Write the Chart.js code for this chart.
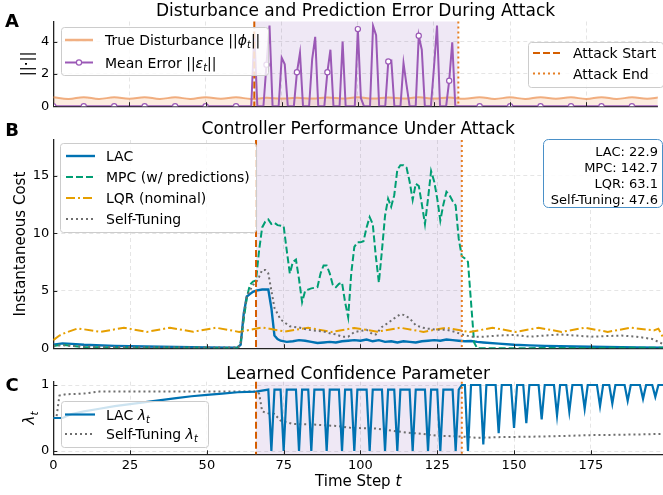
<!DOCTYPE html>
<html>
<head>
<meta charset="utf-8">
<script src="https://cdn.jsdelivr.net/npm/chart.js@4.4.1/dist/chart.umd.min.js"></script>
<style>
    html, body { margin: 0; padding: 0; background: #fff; }
    #wrap { position: relative; width: 663px; height: 495px; overflow: hidden; }
    canvas { position: absolute; left: 0; }
</style>
</head>
<body>
<div id="wrap">
    <canvas id="panelA" width="663" height="118" style="top:0"></canvas>
    <canvas id="panelB" width="663" height="242" style="top:118px"></canvas>
    <canvas id="panelC" width="663" height="135" style="top:360px"></canvas>
</div>
<script>
// ---- data ----
const attackWindow = [66, 133];
const xTicks = [0, 25, 50, 75, 100, 125, 150, 175];
const yTicksA = [0, 2, 4];
const yTicksB = [0, 5, 10, 15];
const yTicksC = [0, 1];

// panel A: true disturbance norm (wavy, ~0.5)
const distT = [0, 5, 10, 15, 20, 25, 30, 35, 40, 45, 50, 55, 60, 65, 70, 75, 80, 85, 90, 95,
    100, 105, 110, 115, 120, 125, 130, 135, 140, 145, 150, 155, 160, 165, 170, 175, 180, 185, 190, 195, 199];
const distV = [0.55, 0.45, 0.56, 0.45, 0.55, 0.46, 0.56, 0.45, 0.55, 0.45, 0.56, 0.46, 0.55, 0.45, 0.52, 0.47, 0.53, 0.47, 0.54, 0.48,
    0.55, 0.47, 0.54, 0.48, 0.55, 0.47, 0.54, 0.46, 0.56, 0.45, 0.55, 0.45, 0.56, 0.46, 0.55, 0.45, 0.56, 0.45, 0.55, 0.46, 0.55];

// panel A: mean prediction error
const errT = [0, 10, 20, 30, 40, 50, 60, 65,
    66, 67, 68, 69, 70, 71, 72, 73, 74, 75, 76, 77, 78, 79, 80, 81, 82, 83, 84, 85, 86, 87, 88, 89,
    90, 91, 92, 93, 94, 95, 96, 97, 98, 99, 100, 101, 102, 103, 104, 105, 106, 107, 108, 109,
    110, 111, 112, 113, 114, 115, 116, 117, 118, 119, 120, 121, 122, 123, 124, 125, 126, 127, 128, 129,
    130, 131, 132, 133, 140, 150, 160, 170, 180, 190, 199];
const errV = [0, 0, 0, 0, 0, 0, 0, 0,
    4.5, 0, 0, 0, 2.57, 5.0, 0, 0, 0, 3.0, 2.6, 0, 0, 0, 2.1, 3.3, 0, 0, 0, 2.9, 4.3, 0, 0, 0,
    2.1, 3.5, 0, 0, 0, 4.0, 0, 0, 0, 0, 4.78, 0.5, 0, 0, 0, 4.98, 4.4, 0, 0, 0,
    2.77, 2.83, 0, 0, 0, 2.67, 1.3, 0, 0, 0, 4.37, 3.5, 0, 0, 0, 2.4, 5.0, 0, 0, 0,
    1.58, 3.96, 0, 0, 0, 0, 0, 0, 0, 0, 0];

// panel B: instantaneous cost
const lacCostT = [0, 3, 6, 10, 20, 30, 40, 50, 60, 61, 62, 63, 64, 65, 66, 68, 70, 71, 72, 73, 74, 76, 78, 80, 82, 84, 86, 88,
    90, 92, 94, 96, 98, 100, 102, 104, 106, 108, 110, 112, 114, 116, 118, 120, 122, 124, 126, 128, 130, 132,
    134, 136, 138, 140, 145, 150, 155, 160, 170, 180, 190, 199];
const lacCostV = [0.3, 0.42, 0.38, 0.3, 0.2, 0.15, 0.1, 0.06, 0.05, 0.3, 3.0, 4.5, 4.7, 4.9, 5.0, 5.1, 5.1, 3.5, 1.1, 0.8, 0.65, 0.55, 0.6, 0.7, 0.65, 0.55, 0.45, 0.5,
    0.55, 0.5, 0.6, 0.65, 0.7, 0.65, 0.75, 0.6, 0.7, 0.55, 0.6, 0.5, 0.6, 0.55, 0.5, 0.6, 0.65, 0.7, 0.65, 0.75, 0.7, 0.65,
    0.6, 0.62, 0.55, 0.5, 0.4, 0.3, 0.25, 0.2, 0.15, 0.1, 0.06, 0.05];

const mpcCostT = [0, 3, 6, 10, 20, 60, 61, 62, 63, 64, 65, 66, 67, 68, 69, 70, 71, 72, 73, 75, 76, 77, 78, 79, 80, 81, 82, 84, 86, 87, 88, 89,
    90, 91, 92, 93, 94, 95, 96, 97, 98, 99, 100, 101, 102, 103, 104, 105, 106, 107, 108, 109,
    110, 111, 112, 113, 114, 115, 116, 117, 118, 119, 120, 121, 122, 123, 124, 125, 126, 127, 128, 129,
    130, 131, 132, 133, 134, 135, 136, 137, 138, 150, 199];
const mpcCostV = [0.2, 0.3, 0.2, 0.1, 0.05, 0.02, 0.5, 2.5, 4.4, 5.5, 5.8, 5.9, 8.5, 10.5, 11.0, 11.2, 10.8, 10.9, 10.7, 10.6, 8.5, 6.5, 7.5, 7.7, 6.0, 4.0, 5.0, 5.2, 5.3, 6.5, 7.2, 7.2,
    6.5, 5.5, 5.3, 5.6, 5.7, 4.0, 2.7, 6.5, 8.8, 9.2, 9.2, 9.3, 10.5, 11.4, 10.8, 8.0, 5.7, 8.5, 11.5, 13.0,
    12.3, 13.3, 15.5, 15.9, 15.9, 15.7, 14.5, 12.9, 14.3, 14.1, 12.5, 10.8, 13.0, 15.4, 14.5, 13.0, 11.1, 12.5, 13.6, 13.3,
    12.8, 12.4, 9.5, 8.0, 7.8, 7.5, 4.0, 0.5, 0.0, 0.0, 0.05];

const lqrCostT = [0, 2, 4, 8, 15.5, 23, 30.5, 38, 45.5, 53, 60.5, 68, 75.5, 83, 90.5, 98, 105.5, 113, 120.5, 128,
    135.5, 143, 150.5, 158, 165.5, 173, 180.5, 188, 195.5, 197, 199];
const lqrCostV = [0.7, 1.1, 1.35, 1.72, 1.42, 1.78, 1.42, 1.78, 1.43, 1.78, 1.42, 1.8, 1.45, 1.78, 1.42, 1.76, 1.44, 1.78, 1.42, 1.78,
    1.4, 1.78, 1.42, 1.78, 1.42, 1.78, 1.42, 1.78, 1.55, 1.7, 0.7];

const selfCostT = [0, 3, 10, 20, 60, 61, 62, 63, 64, 65, 66, 67, 68, 69, 70, 71, 72, 73, 74, 75, 77, 80, 83, 86, 88,
    90, 92, 94, 96, 98, 100, 102, 104, 105, 107, 109, 111, 113, 114, 116, 118, 120, 122, 125, 128, 131, 133,
    136, 140, 145, 150, 155, 160, 165, 170, 175, 180, 185, 190, 195, 199];
const selfCostV = [0.2, 0.25, 0.15, 0.1, 0.05, 0.3, 3.0, 4.5, 5.0, 5.5, 5.7, 6.2, 6.8, 6.8, 6.5, 5.0, 3.5, 3.0, 2.5, 2.3, 1.9, 1.8, 1.6, 1.5, 1.45,
    1.3, 1.2, 1.0, 1.0, 1.4, 1.5, 1.6, 1.2, 1.2, 1.85, 2.2, 2.6, 2.95, 2.9, 2.6, 2.0, 1.8, 1.7, 1.6, 1.6, 1.4, 1.2,
    1.0, 1.0, 1.1, 1.15, 1.0, 1.1, 1.2, 1.1, 1.0, 1.05, 1.1, 1.0, 0.8, 0.3];

const totalCost = { 'LAC': '22.9', 'MPC': '142.7', 'LQR': '63.1', 'Self-Tuning': '47.6' };

// panel C: learned confidence
const lacLamT = [0, 3, 6, 10, 15, 20, 25, 30, 35, 40, 45, 50, 55, 60, 66,
    70, 71, 72, 74, 75, 76, 79, 80, 81, 83, 84, 85, 88, 89, 90, 93, 94, 95, 97, 98, 99,
    102, 103, 104, 107, 108, 109, 111, 112, 113, 116, 117, 118, 121, 122, 123, 125, 126, 127, 130, 131, 132,
    133, 134, 135, 136, 139, 140, 141, 144, 145, 146, 149, 150, 151, 153, 154, 155, 158, 159, 160,
    163, 164, 165, 167, 168, 169, 172, 173, 174, 177, 178, 179, 181, 182, 183, 186, 187, 188,
    191, 192, 193, 195, 196, 197, 199];
const lacLamV = [0.5, 0.5, 0.56, 0.6, 0.64, 0.68, 0.71, 0.74, 0.77, 0.8, 0.83, 0.85, 0.87, 0.89, 0.9,
    0.93, 0, 0.93, 0.93, 0, 0.93, 0.93, 0, 0.93, 0.93, 0, 0.93, 0.93, 0, 0.93, 0.93, 0, 0.93, 0.93, 0, 0.93,
    0.93, 0, 0.93, 0.93, 0, 0.93, 0.93, 0, 0.93, 0.93, 0, 0.93, 0.93, 0, 0.93, 0.93, 0, 0.93, 0.93, 0, 0.93,
    1.0, 1.0, 0.0, 1.0, 1.0, 0.1, 1.0, 1.0, 0.27, 1.0, 1.0, 0.35, 1.0, 1.0, 0.42, 1.0, 1.0, 0.48, 1.0,
    1.0, 0.54, 1.0, 1.0, 0.6, 1.0, 1.0, 0.64, 1.0, 1.0, 0.68, 1.0, 1.0, 0.72, 1.0, 1.0, 0.76, 1.0,
    1.0, 0.79, 1.0, 1.0, 0.82, 1.0, 1.0];

const selfLamT = [0, 1, 2, 4, 10, 15, 66, 67, 68, 70, 72, 74, 78, 85, 92, 97, 105, 110, 115, 120, 125, 133,
    138, 145, 160, 175, 190, 199];
const selfLamV = [0.5, 0.5, 0.84, 0.86, 0.87, 0.9, 0.9, 0.87, 0.6, 0.57, 0.56, 0.46, 0.41, 0.4, 0.38, 0.35, 0.34, 0.31, 0.28, 0.26, 0.23, 0.22,
    0.2, 0.21, 0.22, 0.24, 0.25, 0.26];

// ---- look ----
const FONT = '"DejaVu Sans"';
const X_MAX = 198.5;
const PLOT_LEFT = 53.3;
const GRID = 'rgba(0,0,0,0.13)';
const SHADE = 'rgba(148,103,189,0.15)';
const C_LAC = '#0072B2', C_MPC = '#009E73', C_LQR = '#E69F00', C_SELF = '#6e6e6e';
const C_ERR = '#9B59B6', C_DIST = 'rgba(236,150,90,0.75)';
const C_START = '#D55E00', C_END = '#E67E22';

Chart.defaults.font.family = 'DejaVu Sans';

function pts(ts, vs) {
    return ts.map((t, i) => ({x: t, y: vs[i]}));
}

/**
 * splits a label into pieces, text between $ is math: letters italic, _x subscript
 */
function richParts(str) {
    let out = [];
    str.split('$').forEach((seg, i) => {
        if (i % 2 === 0) {
            if (seg) out.push({t: seg});
            return;
        }
        for (let k = 0; k < seg.length; k++) {
            let ch = seg[k], sub = false;
            if (ch === '_') { sub = true; ch = seg[++k]; }
            out.push({t: ch, it: /[A-Za-z\u0370-\u03ff]/.test(ch), sub: sub});
        }
    });
    return out;
}

function drawRich(ctx, str, x, y, size, align, weight) {
    let parts = richParts(str);
    let fontOf = p => (p.it ? 'italic ' : 'normal ') + (weight || 'normal') + ' ' + (p.sub ? size * 0.7 : size) + 'px ' + FONT;
    let w = 0;
    parts.forEach(p => { ctx.font = fontOf(p); p.w = ctx.measureText(p.t).width; w += p.w; });
    let cx = align === 'center' ? x - w / 2 : (align === 'right' ? x - w : x);
    ctx.textAlign = 'left';
    ctx.textBaseline = 'alphabetic';
    let base = y + size * 0.36;
    parts.forEach(p => {
        ctx.font = fontOf(p);
        ctx.fillText(p.t, cx, p.sub ? base + size * 0.22 : base);
        cx += p.w;
    });
    return w;
}

function roundRect(ctx, x, y, w, h, r) {
    ctx.beginPath();
    ctx.moveTo(x + r, y);
    ctx.arcTo(x + w, y, x + w, y + h, r);
    ctx.arcTo(x + w, y + h, x, y + h, r);
    ctx.arcTo(x, y + h, x, y, r);
    ctx.arcTo(x, y, x + w, y, r);
    ctx.closePath();
}

function drawLegend(ctx, lg) {
    ctx.save();
    roundRect(ctx, lg.x + 0.5, lg.y + 0.5, lg.w, lg.h, 3);
    ctx.fillStyle = 'rgba(255,255,255,0.8)';
    ctx.fill();
    ctx.strokeStyle = '#cccccc';
    ctx.lineWidth = 1;
    ctx.stroke();
    lg.items.forEach((it, i) => {
        let y = lg.rows[i];
        ctx.save();
        ctx.strokeStyle = it.color;
        ctx.lineWidth = it.width || 2;
        ctx.setLineDash(it.dash || []);
        ctx.beginPath();
        ctx.moveTo(lg.sx[0], y);
        ctx.lineTo(lg.sx[1], y);
        ctx.stroke();
        if (it.marker) {
            ctx.setLineDash([]);
            ctx.lineWidth = 1.2;
            ctx.fillStyle = '#fff';
            ctx.beginPath();
            ctx.arc((lg.sx[0] + lg.sx[1]) / 2, y, 2.6, 0, Math.PI * 2);
            ctx.fill();
            ctx.stroke();
        }
        ctx.restore();
        ctx.fillStyle = '#000';
        drawRich(ctx, it.label, lg.tx, y, 14, 'left');
    });
    ctx.restore();
}

/**
 * attack shading, attack lines, inward ticks, titles, labels and legends of one panel
 */
function decorPlugin(cfg) {
    return {
        id: 'decor' + cfg.letter,
        beforeDraw(chart) {
            let {ctx, chartArea: a, scales: {x}} = chart;
            let x0 = x.getPixelForValue(attackWindow[0]), x1 = x.getPixelForValue(attackWindow[1]);
            ctx.save();
            ctx.fillStyle = SHADE;
            ctx.fillRect(x0, a.top, x1 - x0, a.bottom - a.top);
            ctx.restore();
        },
        afterDatasetsDraw(chart) {
            let {ctx, chartArea: a, scales: {x, y}} = chart;
            ctx.save();
            ctx.lineWidth = 2;
            [[attackWindow[0], C_START, [7, 3]], [attackWindow[1], C_END, [2, 3]]].forEach(l => {
                let px = x.getPixelForValue(l[0]);
                ctx.strokeStyle = l[1];
                ctx.setLineDash(l[2]);
                ctx.beginPath();
                ctx.moveTo(px, a.top);
                ctx.lineTo(px, a.bottom);
                ctx.stroke();
            });
            // ticks point inwards
            ctx.setLineDash([]);
            ctx.strokeStyle = '#222';
            ctx.lineWidth = 1;
            x.ticks.forEach(t => {
                let px = Math.round(x.getPixelForValue(t.value)) + 0.5;
                ctx.beginPath();
                ctx.moveTo(px, a.bottom);
                ctx.lineTo(px, a.bottom - 4);
                ctx.stroke();
            });
            y.ticks.forEach(t => {
                let py = Math.round(y.getPixelForValue(t.value)) + 0.5;
                ctx.beginPath();
                ctx.moveTo(a.left, py);
                ctx.lineTo(a.left + 4, py);
                ctx.stroke();
            });
            ctx.restore();
        },
        afterDraw(chart) {
            let {ctx, chartArea: a} = chart;
            ctx.save();
            ctx.fillStyle = '#000';
            drawRich(ctx, cfg.title, (a.left + a.right) / 2, cfg.titleY, 17, 'center');
            drawRich(ctx, cfg.letter, 12, cfg.letterY, 18, 'center', 'bold');
            ctx.save();
            ctx.translate(cfg.yLabelX, (a.top + a.bottom) / 2);
            ctx.rotate(-Math.PI / 2);
            drawRich(ctx, cfg.yLabel, 0, 0, 15, 'center');
            ctx.restore();
            if (cfg.xLabel) drawRich(ctx, cfg.xLabel, (a.left + a.right) / 2, cfg.xLabelY, 15, 'center');
            cfg.legends.forEach(lg => drawLegend(ctx, lg));
            if (cfg.box) {
                let b = cfg.box;
                roundRect(ctx, b.x + 0.5, b.y + 0.5, b.w, b.h, 5);
                ctx.fillStyle = 'rgba(255,255,255,0.85)';
                ctx.fill();
                ctx.strokeStyle = '#4a90c8';
                ctx.lineWidth = 1;
                ctx.stroke();
                ctx.fillStyle = '#000';
                Object.keys(totalCost).forEach((k, i) => {
                    drawRich(ctx, k + ': ' + totalCost[k], b.textX, b.rows[i], 13, 'right');
                });
            }
            ctx.restore();
        }
    };
}

function makePanel(id, p) {
    let canvas = document.getElementById(id);
    let H = canvas.height;
    return new Chart(canvas, {
        type: 'line',
        data: {datasets: p.datasets},
        options: {
            responsive: false,
            animation: false,
            devicePixelRatio: 1,
            layout: {padding: {top: p.top, left: 0, right: 0, bottom: 0}},
            plugins: {legend: {display: false}, tooltip: {enabled: false}, title: {display: false}},
            scales: {
                x: {
                    type: 'linear', min: 0, max: X_MAX,
                    afterBuildTicks: s => { s.ticks = xTicks.map(v => ({value: v})); },
                    afterFit: s => { s.height = H - p.bottom; },
                    ticks: {display: p.showX, font: {size: 13}, color: '#000', padding: 4, maxRotation: 0, autoSkip: false},
                    grid: {color: GRID, lineWidth: 0.8, drawTicks: false},
                    border: {display: true, color: '#222', width: 1.3, dash: [4, 3]}
                },
                y: {
                    min: p.yMin, max: p.yMax,
                    afterBuildTicks: s => { s.ticks = p.yTicks.map(v => ({value: v})); },
                    afterFit: s => { s.width = PLOT_LEFT; },
                    ticks: {font: {size: 13}, color: '#000', padding: 4},
                    grid: {color: GRID, lineWidth: 0.8, drawTicks: false},
                    border: {display: true, color: '#222', width: 1.3, dash: [4, 3]}
                }
            }
        },
        plugins: [decorPlugin(p.decor)]
    });
}

function lineSet(label, t, v, color, width, dash, order) {
    return {
        label: label, data: pts(t, v), borderColor: color, borderWidth: width,
        borderDash: dash, pointRadius: 0, tension: 0, fill: false, order: order
    };
}

// ---- panel A ----
makePanel('panelA', {
    top: 21.5, bottom: 106.7, yMin: 0, yMax: 5.25, yTicks: yTicksA, showX: false,
    datasets: [
        {
            label: 'Mean Error ||\u03b5t||', data: pts(errT, errV), borderColor: C_ERR, borderWidth: 2,
            pointRadius: c => (c.raw && c.raw.x % 10 === 0 ? 2.6 : 0),
            pointBackgroundColor: '#fff', pointBorderColor: C_ERR, pointBorderWidth: 1.2,
            tension: 0, order: 0
        },
        {
            label: 'True Disturbance ||\u03d5t||', data: pts(distT, distV), borderColor: C_DIST, borderWidth: 2,
            backgroundColor: 'rgba(240,145,70,0.17)', fill: 'origin', pointRadius: 0, tension: 0.4, order: 1
        }
    ],
    decor: {
        letter: 'A', letterY: 21, title: 'Disturbance and Prediction Error During Attack', titleY: 10,
        yLabel: '||\u00b7||', yLabelX: 27,
        legends: [
            {x: 61, y: 27, w: 207, h: 48, sx: [65, 93], tx: 105, rows: [40, 62.5], items: [
                {label: 'True Disturbance $||\u03d5_t||$', color: C_DIST, width: 2.5},
                {label: 'Mean Error $||\u03b5_t||$', color: C_ERR, width: 2, marker: true}
            ]},
            {x: 528, y: 42, w: 135, h: 45, sx: [533, 562], tx: 573, rows: [53, 73.5], items: [
                {label: 'Attack Start', color: C_START, width: 2, dash: [7, 3]},
                {label: 'Attack End', color: C_END, width: 2, dash: [2, 3]}
            ]}
        ]
    }
});

// ---- panel B ----
makePanel('panelB', {
    top: 22, bottom: 233.7, yMin: 0, yMax: 18.1, yTicks: yTicksB, showX: false,
    datasets: [
        lineSet('LAC', lacCostT, lacCostV, C_LAC, 2.4, [], 3),
        lineSet('MPC (w/ predictions)', mpcCostT, mpcCostV, C_MPC, 2, [7, 3], 2),
        lineSet('LQR (nominal)', lqrCostT, lqrCostV, C_LQR, 2, [9, 3, 2, 3], 1),
        lineSet('Self-Tuning', selfCostT, selfCostV, C_SELF, 2, [2, 3], 0)
    ],
    decor: {
        letter: 'B', letterY: 12, title: 'Controller Performance Under Attack', titleY: 10,
        yLabel: 'Instantaneous Cost', yLabelX: 20,
        legends: [
            {x: 60, y: 25, w: 196, h: 89, sx: [66, 95], tx: 106, rows: [38, 59, 80, 101], items: [
                {label: 'LAC', color: C_LAC, width: 2.4},
                {label: 'MPC (w/ predictions)', color: C_MPC, width: 2, dash: [7, 3]},
                {label: 'LQR (nominal)', color: C_LQR, width: 2, dash: [9, 3, 2, 3]},
                {label: 'Self-Tuning', color: C_SELF, width: 2, dash: [2, 3]}
            ]}
        ],
        box: {x: 543, y: 21, w: 119, h: 68, textX: 658, rows: [33, 49, 65, 81]}
    }
});

// ---- panel C ----
makePanel('panelC', {
    top: 21.7, bottom: 94.3, yMin: -0.05, yMax: 1.05, yTicks: yTicksC, showX: true,
    datasets: [
        lineSet('LAC \u03bbt', lacLamT, lacLamV, C_LAC, 2.2, [], 0),
        lineSet('Self-Tuning \u03bbt', selfLamT, selfLamV, C_SELF, 2, [2, 3], 1)
    ],
    decor: {
        letter: 'C', letterY: 25, title: 'Learned Confidence Parameter', titleY: 13,
        yLabel: '$\u03bb_t$', yLabelX: 29, xLabel: 'Time Step $t$', xLabelY: 121,
        legends: [
            {x: 61, y: 41, w: 147, h: 46, sx: [65, 95], tx: 106, rows: [54.5, 74], items: [
                {label: 'LAC $\u03bb_t$', color: C_LAC, width: 2.2},
                {label: 'Self-Tuning $\u03bb_t$', color: C_SELF, width: 2, dash: [2, 3]}
            ]}
        ]
    }
});
</script>
</body>
</html>
